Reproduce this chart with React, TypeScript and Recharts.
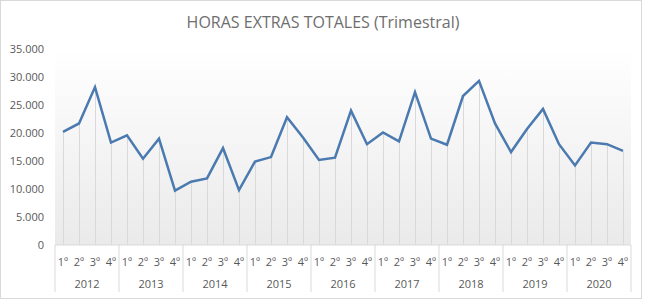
import React from "react";
import {
  ComposedChart,
  Line,
  Bar,
  XAxis,
  YAxis,
  CartesianGrid,
} from "recharts";

const years = ["2012", "2013", "2014", "2015", "2016", "2017", "2018", "2019", "2020"];
const quarters = ["1º", "2º", "3º", "4º"];

// overtime hours per quarter, 2012 Q1 .. 2020 Q4
const horas = [
  20200, 21700, 28200, 18300,
  19600, 15400, 19000, 9700,
  11300, 11900, 17300, 9800,
  14900, 15700, 22800, 19200,
  15200, 15600, 24000, 18000,
  20100, 18500, 27300, 19000,
  17900, 26600, 29300, 21700,
  16600, 20700, 24300, 18000,
  14200, 18300, 18000, 16800,
];

const yTicks = [0, 5000, 10000, 15000, 20000, 25000, 30000, 35000];

const data = years.flatMap((year, i) =>
  quarters.map((q, j) => ({ year, q, horas: horas[i * 4 + j] }))
);

const WIDTH = 646;
const HEIGHT = 300;
const MARGIN = { top: 49, right: 15, left: 8, bottom: 0 };
const Y_AXIS_W = 47;
const PLOT_W = WIDTH - MARGIN.left - MARGIN.right - Y_AXIS_W;
const HALF_BAND = PLOT_W / data.length / 2;

const FONT = "'Open Sans', sans-serif";
const TEXT = "#595959";
const GRID = "#d9d9d9";

const fmt = (v: number) => String(v).replace(/\B(?=(\d{3})+(?!\d))/g, ".");

// quarter label, year label under the 2nd/3rd quarter boundary, year separators
function QuarterTick(props: any) {
  const { x, y, payload, index } = props;
  const pos = payload.index ?? index;
  const row = data[pos];
  const isFirst = pos % 4 === 0;
  const isLast = pos === data.length - 1;
  return (
    <g>
      <text
        x={x}
        y={y + 21}
        textAnchor="middle"
        fontSize={11}
        fontFamily={FONT}
        fill={TEXT}
      >
        {row.q}
      </text>
      {pos % 4 === 1 && (
        <text
          x={x + HALF_BAND}
          y={y + 43}
          textAnchor="middle"
          fontSize={11}
          fontFamily={FONT}
          fill={TEXT}
        >
          {row.year}
        </text>
      )}
      {isFirst && (
        <line x1={x - HALF_BAND} x2={x - HALF_BAND} y1={y} y2={y + 47} stroke={GRID} />
      )}
      {isLast && (
        <line x1={x + HALF_BAND} x2={x + HALF_BAND} y1={y} y2={y + 47} stroke={GRID} />
      )}
    </g>
  );
}

export default function App() {
  return (
    <div
      style={{
        position: "absolute",
        left: 0,
        top: 0,
        width: WIDTH,
        height: HEIGHT,
        background: "#fff",
      }}
    >
      <svg width={0} height={0} style={{ position: "absolute" }}>
        <defs>
          <linearGradient id="plotFade" x1="0" y1="0" x2="0" y2="1">
            <stop offset="0%" stopColor="#ffffff" />
            <stop offset="100%" stopColor="#eaeaea" />
          </linearGradient>
        </defs>
      </svg>
      <div
        style={{
          position: "absolute",
          left: 0,
          top: 0,
          width: 642,
          height: 299,
          border: "1px solid #d9d9d9",
          boxSizing: "border-box",
        }}
      />
      <div
        style={{
          position: "absolute",
          left: 0,
          top: 12,
          width: WIDTH,
          textAlign: "center",
          fontFamily: FONT,
          fontSize: 16,
          color: "#6e6e6e",
          lineHeight: "20px",
        }}
      >
        HORAS EXTRAS TOTALES (Trimestral)
      </div>
      <div style={{ position: "absolute", left: 0, top: 0 }}>
        <ComposedChart width={WIDTH} height={HEIGHT} data={data} margin={MARGIN}>
          <CartesianGrid
            horizontal={false}
            vertical={false}
            fill="url(#plotFade)"
            stroke="none"
          />
          <XAxis
            dataKey="q"
            height={55}
            interval={0}
            tickSize={0}
            tickMargin={0}
            tickLine={false}
            axisLine={{ stroke: GRID }}
            tick={<QuarterTick />}
          />
          <YAxis
            width={Y_AXIS_W}
            domain={[0, 35000]}
            ticks={yTicks}
            tickFormatter={fmt}
            axisLine={false}
            tickLine={false}
            tickSize={0}
            tickMargin={11}
            tick={{ fontSize: 11, fontFamily: FONT, fill: TEXT }}
          />
          <Bar dataKey="horas" barSize={1} fill={GRID} isAnimationActive={false} />
          <Line
            type="linear"
            dataKey="horas"
            stroke="#4a7ab0"
            strokeWidth={2.5}
            dot={false}
            activeDot={false}
            isAnimationActive={false}
          />
        </ComposedChart>
      </div>
    </div>
  );
}
